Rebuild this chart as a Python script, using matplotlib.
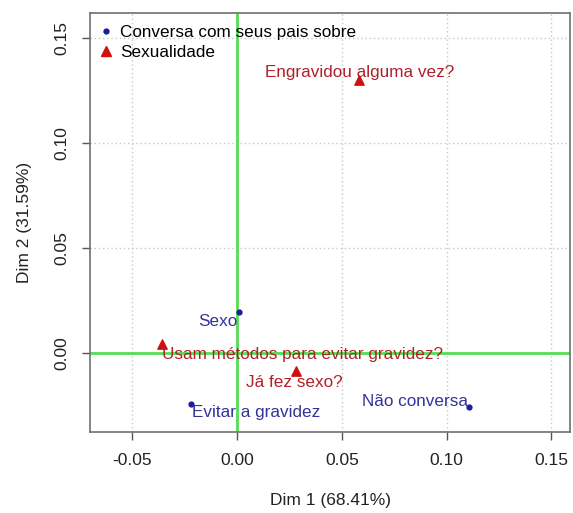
import matplotlib
matplotlib.use('Agg')
from matplotlib import pyplot as plt
from matplotlib.lines import Line2D

# pontos "Conversa com seus pais sobre"
conv_labels = ['Sexo', 'Evitar a gravidez', 'Não conversa']
conv_x = [0.0008, -0.0222, 0.1107]
conv_y = [0.0196, -0.0246, -0.0258]

# pontos "Sexualidade"
sex_labels = ['Engravidou alguma vez?', 'Usam métodos para evitar gravidez?', 'Já fez sexo?']
sex_x = [0.0582, -0.0360, 0.0280]
sex_y = [0.1300, 0.0040, -0.0087]

x_ticks = [-0.05, 0.00, 0.05, 0.10, 0.15]
y_ticks = [0.00, 0.05, 0.10, 0.15]

plt.rcParams['font.family'] = ['Liberation Sans', 'DejaVu Sans']

fig = plt.figure(figsize=(5.73, 5.13), dpi=100)
ax = fig.add_axes([0.157, 0.157, 0.838, 0.817])

ax.set_xlim(-0.0703, 0.1589)
ax.set_ylim(-0.038, 0.162)

ax.grid(True, color='#c8c8c8', linestyle=(0, (1, 2)), linewidth=1)
ax.set_axisbelow(True)
ax.axhline(0, color='#55dd55', linewidth=2, zorder=2)
ax.axvline(0, color='#55dd55', linewidth=2, zorder=2)

blue = '#1c1c9c'
blue_txt = '#33339a'
red = '#d01010'
red_txt = '#b0202a'
fs = 12.3

ax.scatter(conv_x, conv_y, s=12, color=blue, zorder=3)
ax.scatter(sex_x, sex_y, s=45, marker='^', color=red, zorder=3)

# posicao dos rotulos (deslocamento em pontos, alinhamento)
conv_pos = [((-1, -7), 'right'), ((1, -6), 'left'), ((-1, 4), 'right')]
sex_pos = [((0, 6), 'center'), ((0, -7), 'left'), ((-1, -8), 'center')]

for i in range(len(conv_labels)):
    off, ha = conv_pos[i]
    ax.annotate(conv_labels[i], (conv_x[i], conv_y[i]), xytext=off, textcoords='offset points',
                ha=ha, va='center', color=blue_txt, fontsize=fs, zorder=4)
for i in range(len(sex_labels)):
    off, ha = sex_pos[i]
    ax.annotate(sex_labels[i], (sex_x[i], sex_y[i]), xytext=off, textcoords='offset points',
                ha=ha, va='center', color=red_txt, fontsize=fs, zorder=4)

ax.set_xticks(x_ticks)
ax.set_xticklabels(['%.2f' % v for v in x_ticks])
ax.set_yticks(y_ticks)
ax.set_yticklabels(['%.2f' % v for v in y_ticks], rotation=90, va='center')
ax.tick_params(direction='out', length=6, width=1, color='#555555', labelsize=12.5,
               labelcolor='#222222', pad=9)

for sp in ax.spines.values():
    sp.set_color('#707070')
    sp.set_linewidth(1.2)

ax.set_xlabel('Dim 1 (68.41%)', fontsize=12.5, color='#222222', labelpad=18)
ax.set_ylabel('Dim 2 (31.59%)', fontsize=12.5, color='#222222', labelpad=16)

handles = [Line2D([], [], marker='o', linestyle='', color=blue, markersize=3.5),
           Line2D([], [], marker='^', linestyle='', color=red, markersize=7)]
ax.legend(handles, ['Conversa com seus pais sobre', 'Sexualidade'], loc='upper left',
          bbox_to_anchor=(-0.005, 1.0), frameon=False, fontsize=fs, handletextpad=0.4,
          labelspacing=0.25, borderaxespad=0.3, handlelength=0.8)

plt.savefig('out.png', dpi=100)
